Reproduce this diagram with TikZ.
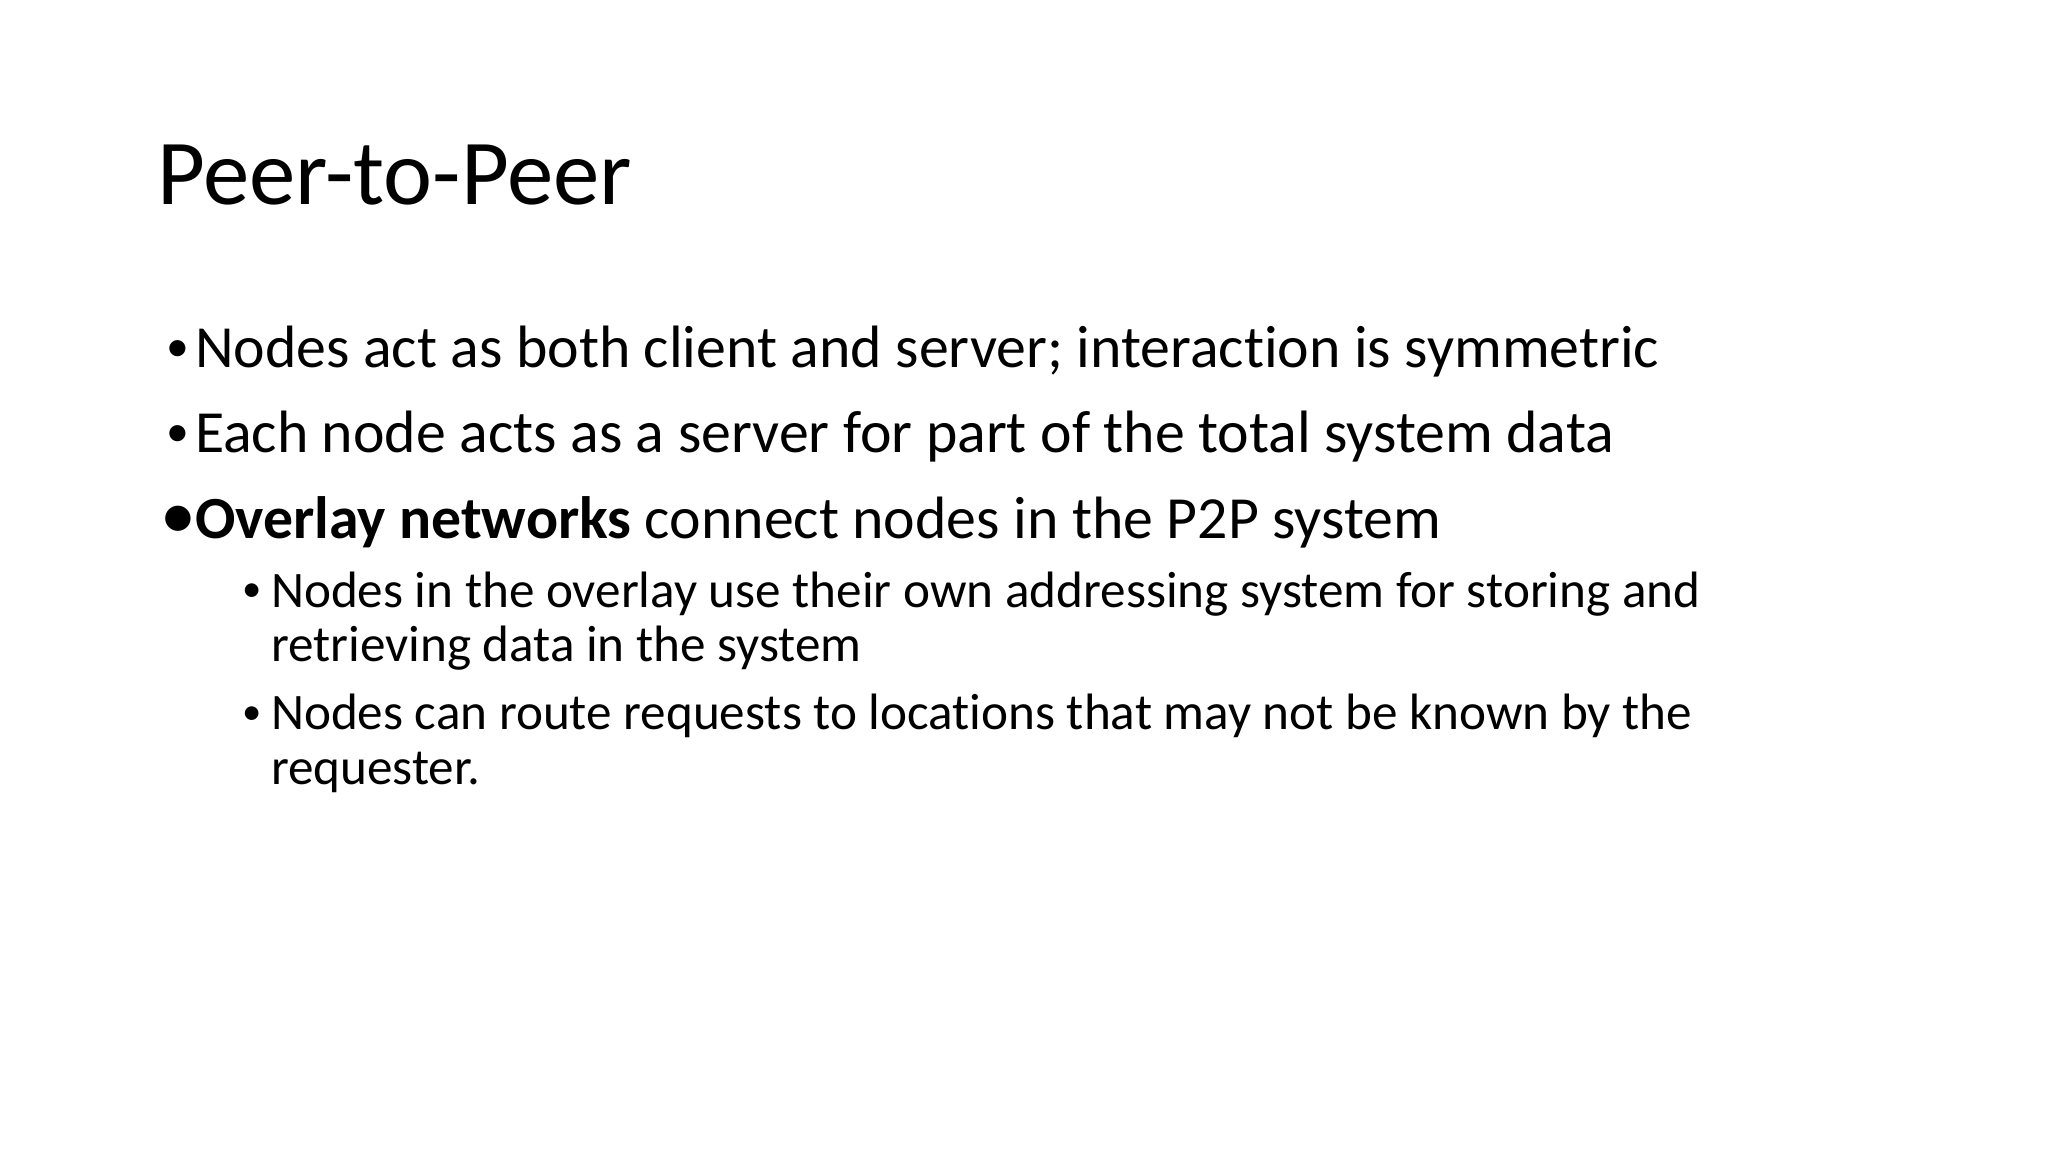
\documentclass[tikz,border=0pt]{standalone}
\usepackage{fontspec}
\setmainfont[Ligatures=NoCommon]{Carlito}
\begin{document}
\begin{tikzpicture}[x=0.01cm,y=-0.01cm,
  every node/.style={anchor=base west,inner sep=0pt,outer sep=0pt},
  title/.style={font=\fontsize{26.4}{32}\selectfont},
  body/.style={font=\fontsize{17}{21}\selectfont},
  bdot/.style={font=\fontsize{13}{15}\selectfont},
  sub/.style={font=\fontsize{14.55}{18}\selectfont},
  sdot/.style={font=\fontsize{11}{13}\selectfont}]
\useasboundingbox[fill=white] (0,0) rectangle (2048,1152);
\node[title] (t) at (157,205) {Peer-to-Peer};
\node[bdot] (b1d) at (166,362) {•};
\node[body] (b1) at (195,368) {Nodes act as both client and server; interaction is symmetric};
\node[bdot] (b2d) at (166,447) {•};
\node[body] (b2) at (195,453) {Each node acts as a server for part of the total system data};
\node[body] (b3d) at (163,536) {\textbf{•}};
\node[body] (b3) at (195,538) {\textbf{Overlay networks} connect nodes in the P2P system};
\node[sdot] (s1d) at (242,602) {•};
\node[sub] (s1) at (271,607) {Nodes in the overlay use their own addressing system for storing and};
\node[sub] (s1b) at (271,662) {retrieving data in the system};
\node[sdot] (s2d) at (242,724) {•};
\node[sub] (s2) at (271,729) {Nodes can route requests to locations that may not be known by the};
\node[sub] (s2b) at (271,784) {requester.};
\end{tikzpicture}
\end{document}
